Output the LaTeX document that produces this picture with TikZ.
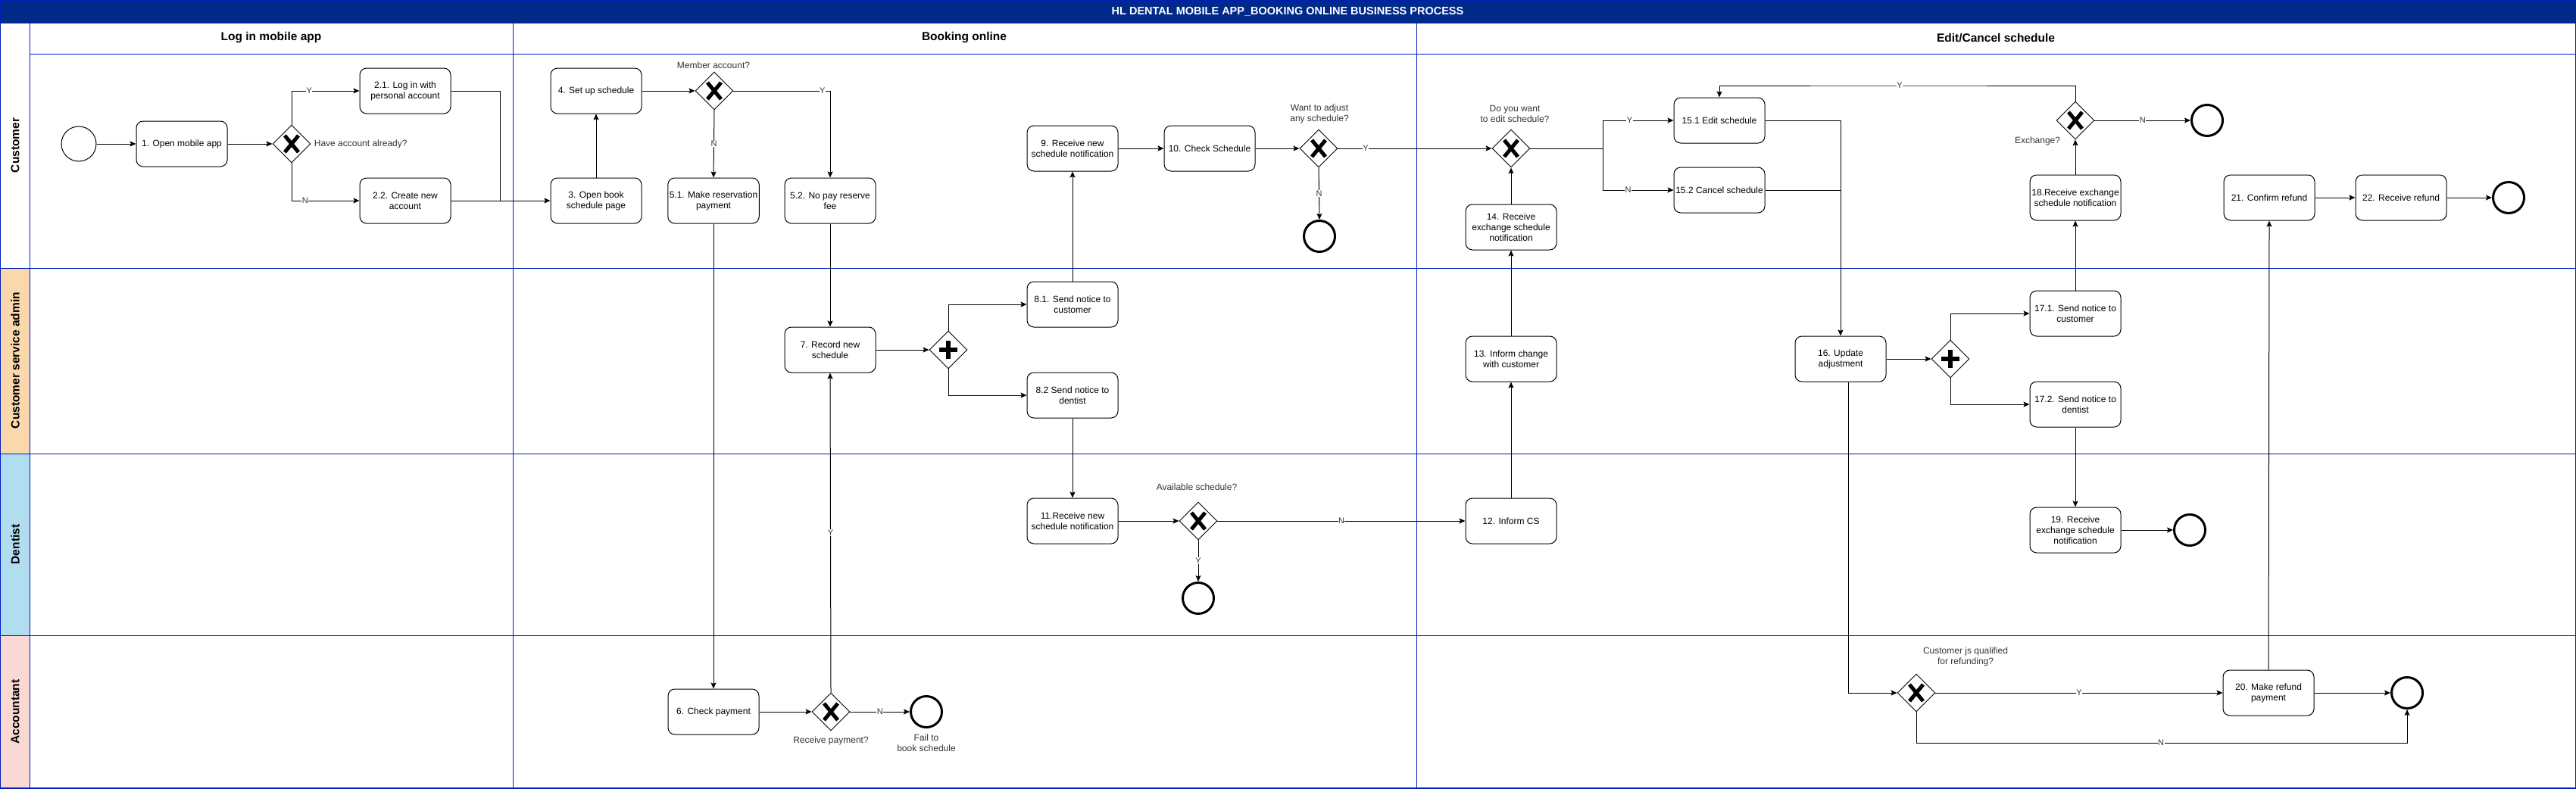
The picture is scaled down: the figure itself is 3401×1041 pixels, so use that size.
\documentclass[tikz,border=0pt]{standalone}
\usepackage{fontspec}
\setmainfont{Liberation Sans}
\usepackage{tikz}
\usetikzlibrary{calc,shapes.geometric,arrows.meta}
\definecolor{bandeau}{RGB}{0,42,136}
\definecolor{trait}{RGB}{0,29,188}
\definecolor{orangefond}{RGB}{250,215,172}
\definecolor{orangebord}{RGB}{180,101,4}
\definecolor{bleufond}{RGB}{177,221,240}
\definecolor{bleubord}{RGB}{16,115,158}
\definecolor{rosefond}{RGB}{250,217,213}
\definecolor{rosebord}{RGB}{174,65,50}
\definecolor{gristexte}{RGB}{51,51,51}
\tikzstyle{tache} = [rectangle, rounded corners=9pt, draw=black, line width=1pt, minimum height=60pt, minimum width=120pt, inner sep=2pt, align=center, font=\fontsize{12}{14}\selectfont]
\tikzstyle{porte} = [diamond, draw=black, line width=0.9pt, minimum width=50pt, minimum height=50pt, inner sep=0pt]
\tikzstyle{ou} = [porte, path picture={\draw[line width=5pt] (path picture bounding box.center) ++(-9pt,-11pt) -- ++(18pt,22pt) (path picture bounding box.center) ++(-9pt,11pt) -- ++(18pt,-22pt);}]
\tikzstyle{et} = [porte, path picture={\draw[line width=6pt] (path picture bounding box.center) ++(-12pt,0pt) -- ++(24pt,0pt) (path picture bounding box.center) ++(0pt,-12pt) -- ++(0pt,24pt);}]
\tikzstyle{debut} = [circle, draw=black, line width=1pt, minimum size=46pt, inner sep=0pt]
\tikzstyle{fin} = [circle, draw=black, line width=3pt, minimum size=41pt, inner sep=0pt]
\tikzstyle{etiq} = [fill=white, inner sep=0.5pt, text=gristexte, font=\fontsize{11}{13}\selectfont]
\tikzstyle{question} = [align=center, text=gristexte, font=\fontsize{12}{14}\selectfont]
\tikzstyle{acteur} = [rotate=90, font=\bfseries\fontsize{15.5}{18}\selectfont]
\tikzstyle{phase} = [font=\bfseries\fontsize{15.5}{18}\selectfont]

\begin{document}
\begin{tikzpicture}[x=1pt, y=-1pt, line width=1pt, >={Stealth[length=8pt,width=7pt,inset=1.5pt]}]

        \useasboundingbox (0,0) rectangle (3401,1041);

        \fill[bandeau] (0,0) rectangle (3401,30);
        \node (titre) [text=white, font=\bfseries\fontsize{14.5}{17}\selectfont] at (1700,15) {HL DENTAL MOBILE APP\_BOOKING ONLINE BUSINESS PROCESS};

        \filldraw[fill=orangefond, draw=orangebord] (0,354) rectangle (39,599);
        \filldraw[fill=bleufond, draw=bleubord] (0,599) rectangle (39,839);
        \filldraw[fill=rosefond, draw=rosebord] (0,839) rectangle (39,1041);

        \draw[trait, line width=1.4pt] (0,0) rectangle (3401,1041);
        \draw[trait, line width=0.9pt] (0,30) -- (3401,30) (39,71) -- (3401,71) (0,354) -- (3401,354) (0,599) -- (3401,599) (0,839) -- (3401,839);
        \draw[trait, line width=0.9pt] (39,30) -- (39,1041) (677,30) -- (677,1041) (1870,30) -- (1870,1041);

        \node (acteur1) [acteur] at (20,192) {Customer};
        \node (acteur2) [acteur] at (20,476) {Customer service admin};
        \node (acteur3) [acteur] at (20,719) {Dentist};
        \node (acteur4) [acteur] at (20,940) {Accountant};

        \node (phase1) [phase] at (358,50) {Log in mobile app};
        \node (phase2) [phase] at (1273,50) {Booking online};
        \node (phase3) [phase] at (2635,50) {Edit/Cancel schedule};

        \node (D0) [debut] at (104,190) {};
        \node (T1) [tache] at (240,190) {1. Open mobile app};
        \node (G1) [ou] at (385,190) {};
        \node (Q1) [question, anchor=west] at (411,190) {Have account already?};
        \node (T21) [tache] at (535,120) {2.1. Log in with\\personal account};
        \node (T22) [tache] at (535,265) {2.2. Create new\\account};
        \node (T3) [tache] at (787,265) {3. Open book\\schedule page};
        \node (T4) [tache] at (787,120) {4. Set up schedule};
        \node (G2) [ou] at (943,120) {};
        \node (Q2) [question] at (942,86) {Member account?};
        \node (T51) [tache] at (942,265) {5.1. Make reservation\\payment};
        \node (T52) [tache] at (1096,265) {5.2. No pay reserve\\fee};
        \node (T9) [tache] at (1416,196) {9. Receive new\\schedule notification};
        \node (T10) [tache] at (1597,196) {10. Check Schedule};
        \node (G3) [ou] at (1741,196) {};
        \node (Q3) [question] at (1742,150) {Want to adjust\\any schedule?};
        \node (F1) [fin] at (1742,312) {};
        \node (G4) [ou] at (1995,196) {};
        \node (Q4) [question] at (2000,150) {Do you want\\to edit schedule?};
        \node (T14) [tache] at (1995,300) {14. Receive\\exchange schedule\\notification};
        \node (T151) [tache] at (2270,159) {15.1 Edit schedule};
        \node (T152) [tache] at (2270,251) {15.2 Cancel schedule};
        \node (G5) [ou] at (2740,159) {};
        \node (Q5) [question] at (2690,186) {Exchange?};
        \node (F2) [fin] at (2914,159) {};
        \node (T18) [tache] at (2740,261) {18.Receive exchange\\schedule notification};
        \node (T21r) [tache] at (2996,261) {21. Confirm refund};
        \node (T22r) [tache] at (3170,261) {22. Receive refund};
        \node (F3) [fin] at (3312,261) {};

        \node (T7) [tache] at (1096,462) {7. Record new\\schedule};
        \node (P1) [et] at (1252,462) {};
        \node (T81) [tache] at (1416,402) {8.1. Send notice to\\customer};
        \node (T82) [tache] at (1416,522) {8.2 Send notice to\\dentist};
        \node (T13) [tache] at (1995,474) {13. Inform change\\with customer};
        \node (T16) [tache] at (2430,474) {16. Update\\adjustment};
        \node (P2) [et] at (2575,474) {};
        \node (T171) [tache] at (2740,414) {17.1. Send notice to\\customer};
        \node (T172) [tache] at (2740,534) {17.2. Send notice to\\dentist};

        \node (T11) [tache] at (1416,688) {11.Receive new\\schedule notification};
        \node (G6) [ou] at (1582,688) {};
        \node (Q6) [question] at (1580,643) {Available schedule?};
        \node (F4) [fin] at (1582,790) {};
        \node (T12) [tache] at (1995,688) {12. Inform CS};
        \node (T19) [tache] at (2740,700) {19. Receive\\exchange schedule\\notification};
        \node (F5) [fin] at (2891,700) {};

        \node (T6) [tache] at (942,940) {6. Check payment};
        \node (G8) [ou] at (1097,940) {};
        \node (Q8) [question] at (1097,978) {Receive payment?};
        \node (F6) [fin] at (1223,940) {};
        \node (Q9) [question] at (1223,981) {Fail to\\book schedule};
        \node (G7) [ou] at (2530,915) {};
        \node (Q7) [question] at (2595,867) {Customer js qualified\\for refunding?};
        \node (T20) [tache] at (2995,915) {20. Make refund\\payment};
        \node (F7) [fin] at (3178,915) {};

        \coordinate (J1) at (660,265);
        \coordinate (S4) at (2116,196);
        \coordinate (Y5) at (2508,113);
        \coordinate (N7) at (2853,981);

        \draw[->] (D0) -- (T1);
        \draw[->] (T1) -- (G1);
        \draw[->] (G1.north) |- node[etiq, pos=0.63] {Y} (T21.west);
        \draw[->] (G1.south) |- node[etiq, pos=0.6] {N} (T22.west);
        \draw (T21.east) -| (J1);
        \draw[->] (T22.east) -- (T3.west);
        \draw[->] (T3) -- (T4);
        \draw[->] (T4) -- (G2);
        \draw[->] (G2.south) -- node[etiq] {N} (T51.north);
        \draw[->] (G2.east) -| node[etiq, pos=0.46] {Y} (T52.north);
        \draw[->] (T51.south) -- (T6.north);
        \draw[->] (T52.south) -- (T7.north);
        \draw[->] (T7) -- (P1);
        \draw[->] (P1.north) |- (T81.west);
        \draw[->] (P1.south) |- (T82.west);
        \draw[->] (T81.north) -- (T9.south);
        \draw[->] (T82.south) -- (T11.north);
        \draw[->] (T9) -- (T10);
        \draw[->] (T10) -- (G3);
        \draw[->] (G3.east) -- node[etiq, pos=0.18] {Y} (G4.west);
        \draw[->] (G3.south) -- node[etiq] {N} (F1.north);
        \draw[->] (T11) -- (G6);
        \draw[->] (G6.south) -- node[etiq] {Y} (F4.north);
        \draw[->] (G6.east) -- node[etiq] {N} (T12.west);
        \draw[->] (T12) -- (T13);
        \draw[->] (T13) -- (T14);
        \draw[->] (T14) -- (G4);
        \draw (G4.east) -- (S4);
        \draw[->] (S4) |- node[etiq, pos=0.69] {Y} (T151.west);
        \draw[->] (S4) |- node[etiq, pos=0.68] {N} (T152.west);
        \draw[->] (T151.east) -| (T16.north);
        \draw (T152.east) -- (T152.east -| T16.north);
        \draw[->] (T16) -- (P2);
        \draw[->] (P2.north) |- (T171.west);
        \draw[->] (P2.south) |- (T172.west);
        \draw[->] (T171.north) -- (T18.south);
        \draw[->] (T18) -- (G5);
        \draw[->] (G5.east) -- node[etiq] {N} (F2.west);
        \draw[->] (G5.north) |- (Y5) node[etiq] {Y} -| (T151.north);
        \draw[->] (T172.south) -- (T19.north);
        \draw[->] (T19) -- (F5);
        \draw[->] ([xshift=10pt]T16.south) |- (G7.west);
        \draw[->] (G7.east) -- node[etiq] {Y} (T20.west);
        \draw[->] (G7.south) |- (N7) node[etiq] {N} -| (F7.south);
        \draw[->] (T20) -- (F7);
        \draw[->] (T20.north) -- (T21r.south);
        \draw[->] (T21r) -- (T22r);
        \draw[->] (T22r) -- (F3);
        \draw[->] (T6) -- (G8);
        \draw[->] (G8.north) -- node[etiq] {Y} (T7.south);
        \draw[->] (G8.east) -- node[etiq] {N} (F6.west);

    \end{tikzpicture}
\end{document}
